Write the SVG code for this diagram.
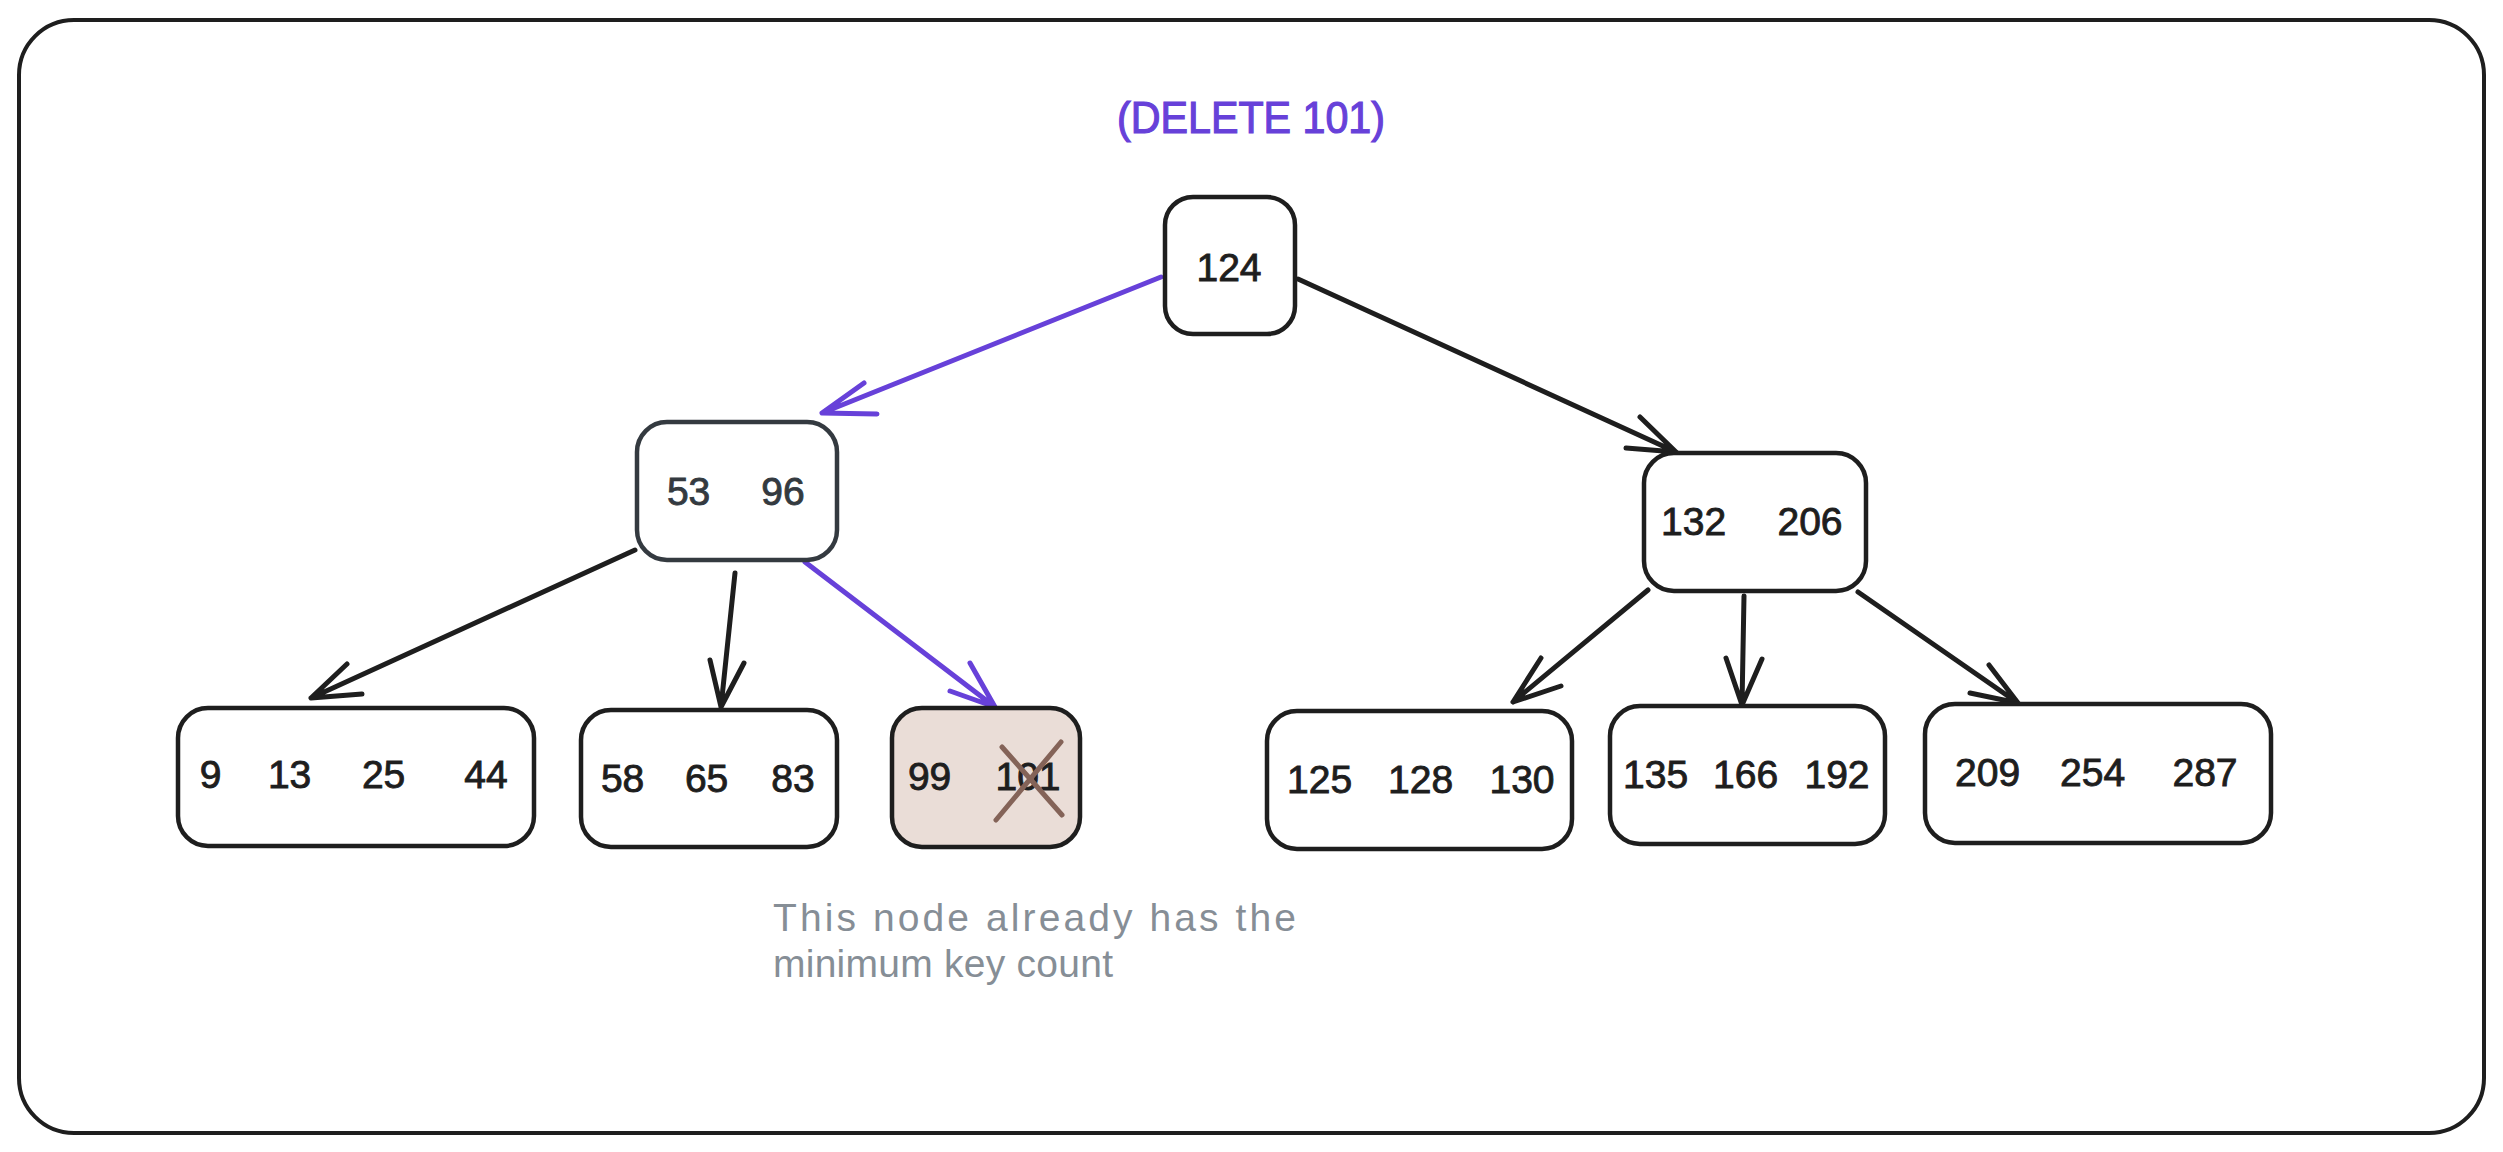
<svg xmlns="http://www.w3.org/2000/svg" width="2503" height="1152" viewBox="0 0 2503 1152">
<style>
.box{fill:#ffffff;stroke:#1e1e1e;stroke-width:4.5}
.num{font-family:"Liberation Sans",Arial,sans-serif;font-size:39px;fill:#1e1e1e;stroke:#1e1e1e;stroke-width:0.9;text-anchor:middle}
.arr{fill:none;stroke:#1e1e1e;stroke-width:5;stroke-linecap:round;stroke-linejoin:round}
.arr.p{stroke:#6741d9}
.note{font-family:"Liberation Sans",Arial,sans-serif;font-size:39px;fill:#868e96}
</style>
<rect x="0" y="0" width="2503" height="1152" fill="#ffffff"/>
<rect x="19" y="20" width="2465" height="1113" rx="55" fill="none" stroke="#1e1e1e" stroke-width="4"/>
<text x="1251" y="133" font-family="Liberation Sans, Arial, sans-serif" font-size="45" fill="#6741d9" stroke="#6741d9" stroke-width="1.2" text-anchor="middle" textLength="268" lengthAdjust="spacingAndGlyphs">(DELETE 101)</text>

<g id="connectors">
<path class="arr p" d="M1161 277 L822 413 M864 383 L822 413 L877 414"/>
<path class="arr" d="M1298 279 L1676 452 M1626 448 L1676 452 L1640 417"/>
<path class="arr" d="M635 550 L311 698 M347 664 L311 698 L362 694"/>
<path class="arr" d="M735 573 L721 707 M710 660 L721 707 L744 663"/>
<path class="arr p" d="M805 562 L995 707 M970 663 L995 707 L950 691"/>
<path class="arr" d="M1648 590 L1513 702 M1541 658 L1513 702 L1561 686"/>
<path class="arr" d="M1744 596 L1742 705 M1726 658 L1742 705 L1762 659"/>
<path class="arr" d="M1858 592 L2018 703 M1989 665 L2018 703 L1970 693"/>
</g>

<g id="node-124">
<rect class="box" x="1165" y="197" width="130" height="137" rx="28"/>
<text class="num" x="1229" y="281">124</text>
</g>
<g id="node-53-96">
<rect class="box" x="637" y="422" width="200" height="138" rx="30" style="stroke:#343a40"/>
<text class="num" y="505" style="fill:#343a40;stroke:#343a40"><tspan x="694">53</tspan> <tspan x="783">96</tspan></text>
</g>
<g id="node-132-206">
<rect class="box" x="1644" y="453" width="222" height="138" rx="30"/>
<text class="num" y="535"><tspan x="1699">132</tspan> <tspan x="1810">206</tspan></text>
</g>
<g id="leaf-9-13-25-44">
<rect class="box" x="178" y="708" width="356" height="138" rx="30"/>
<text class="num" y="788"><tspan x="216">9</tspan> <tspan x="295">13</tspan> <tspan x="389">25</tspan> <tspan x="486">44</tspan></text>
</g>
<g id="leaf-58-65-83">
<rect class="box" x="581" y="710" width="256" height="137" rx="30"/>
<text class="num" y="792"><tspan x="628">58</tspan> <tspan x="712">65</tspan> <tspan x="793">83</tspan></text>
</g>
<g id="leaf-99-101">
<rect class="box" x="892" y="708" width="188" height="139" rx="30" style="fill:#eaddd7"/>
<text class="num" y="790"><tspan x="935">99</tspan> <tspan x="1028">101</tspan></text>
<path d="M1002 747 L1062 815 M1061 742 L996 820" fill="none" stroke="#846358" stroke-width="5" stroke-linecap="round"/>
</g>
<g id="leaf-125-128-130">
<rect class="box" x="1267" y="711" width="305" height="138" rx="30"/>
<text class="num" y="793"><tspan x="1325">125</tspan> <tspan x="1426">128</tspan> <tspan x="1522">130</tspan></text>
</g>
<g id="leaf-135-166-192">
<rect class="box" x="1610" y="706" width="275" height="138" rx="30"/>
<text class="num" y="788"><tspan x="1661">135</tspan> <tspan x="1751">166</tspan> <tspan x="1837">192</tspan></text>
</g>
<g id="leaf-209-254-287">
<rect class="box" x="1925" y="704" width="346" height="139" rx="30"/>
<text class="num" y="786"><tspan x="1993">209</tspan> <tspan x="2098">254</tspan> <tspan x="2205">287</tspan></text>
</g>

<g id="note">
<text class="note" x="773" y="931" textLength="523" lengthAdjust="spacing">This node already has the</text>
<text class="note" x="773" y="977" textLength="340" lengthAdjust="spacing">minimum key count</text>
</g>
</svg>
